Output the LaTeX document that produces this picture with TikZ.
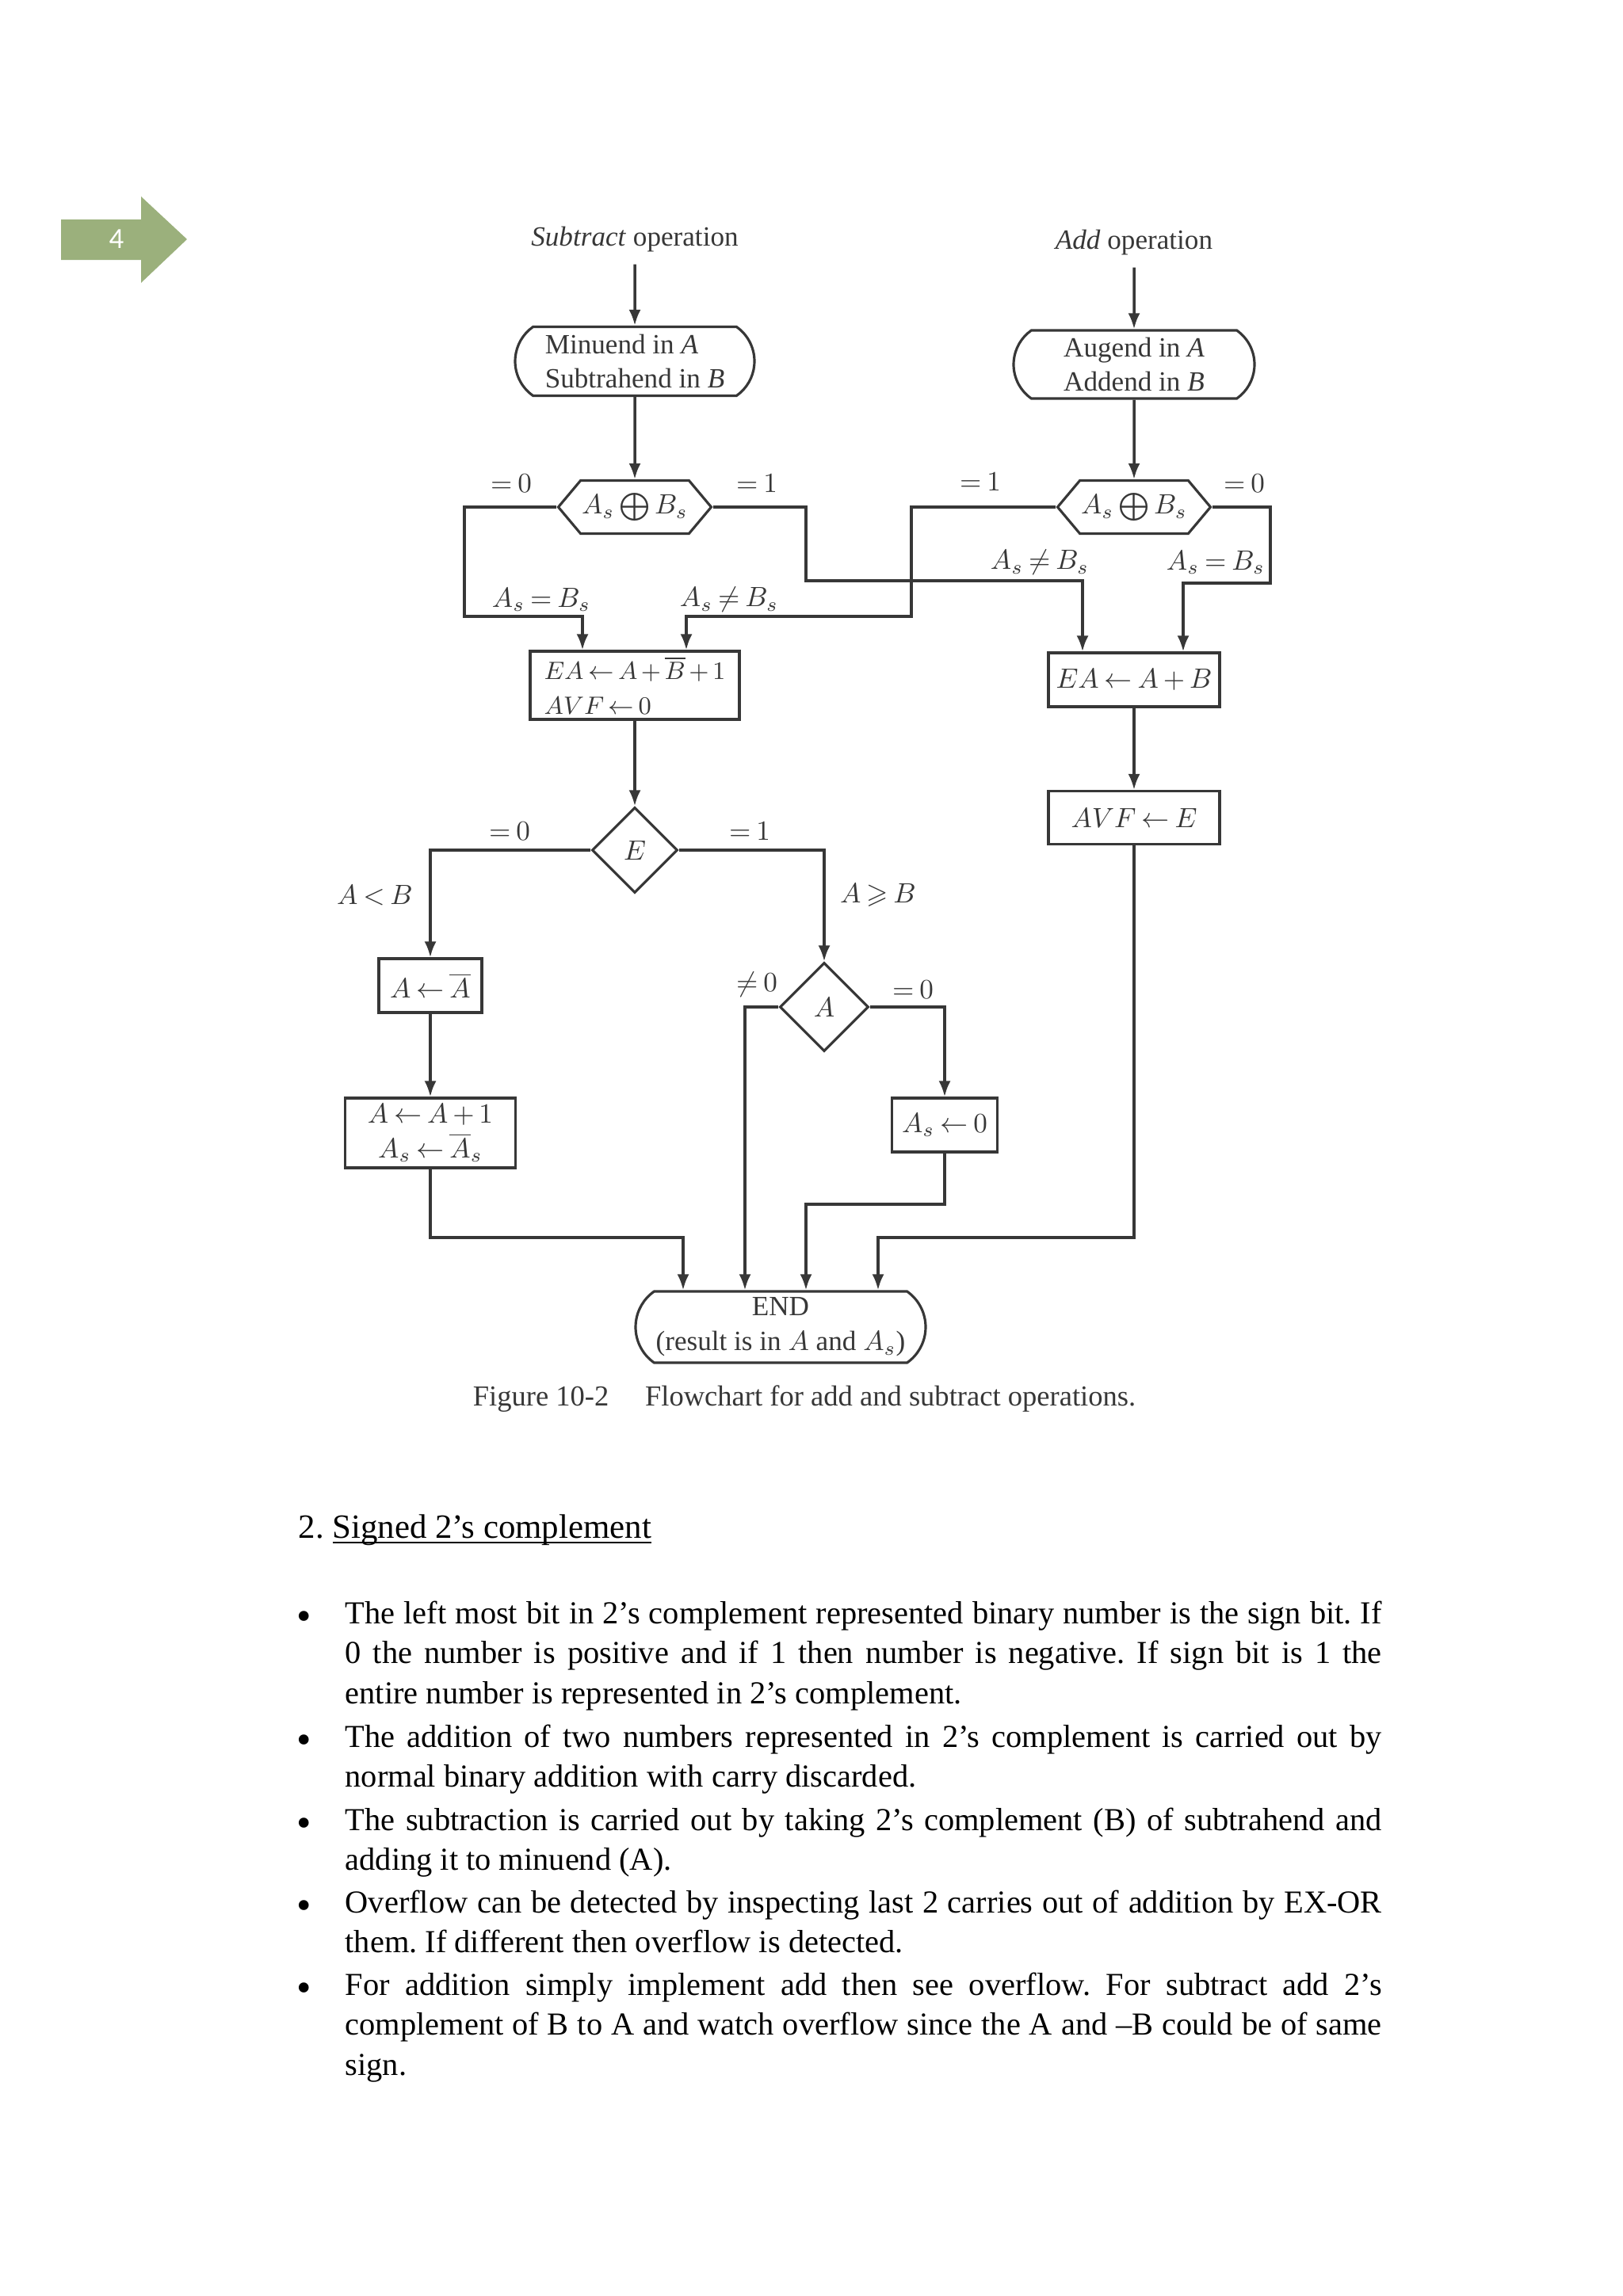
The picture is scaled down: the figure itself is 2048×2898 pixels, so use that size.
\documentclass[tikz,border=0pt]{standalone}
\usepackage{fontspec}
\setmainfont{Liberation Serif}
\newfontfamily\pagenumfont{Carlito}
\usepackage{amssymb}
\usepackage{tikz}
\usetikzlibrary{%
  arrows.meta,%
  shapes.geometric,% diamond
  shapes.misc,% rounded rectangle
  shapes.symbols,% signal
  positioning,%
  calc,
}
\definecolor{sage}{RGB}{155,176,124}
\definecolor{ink}{RGB}{55,55,55}
\newcommand\chartfont{\fontsize{10}{12.5}\selectfont\medmuskip=3mu\thickmuskip=3.5mu\relax}
\newcommand\tightfont{\fontsize{9.5}{12.5}\selectfont\medmuskip=2.5mu\thickmuskip=3mu\relax}
\newcommand\headline[1]{\underline{\smash{#1}}}
\frenchspacing
\tikzset{
  flow/.style={draw=ink, line width=1pt, -{Latex[length=2mm,width=1.5mm]}},
  opbox/.style={draw=ink, line width=0.9pt, rectangle, inner sep=0pt, text=ink, font=\chartfont},
  startend/.style={draw=ink, line width=0.9pt, rounded rectangle, rounded rectangle arc length=110, inner sep=0pt, text=ink, font=\chartfont},
  signtest/.style={draw=ink, line width=0.9pt, signal, signal to=west and east, signal pointer angle=100, inner sep=0pt, minimum width=19.3mm, minimum height=6.7mm, text=ink, font=\chartfont},
  decide/.style={draw=ink, line width=0.9pt, diamond, aspect=1, inner sep=0pt, text=ink, font=\chartfont},
  tag/.style={text=ink, inner sep=0pt, font=\chartfont},
  body/.style={anchor=base west, inner sep=0pt, font=\fontsize{11.5}{14.37}\selectfont},
  dot/.style={anchor=base, inner sep=0pt, font=\fontsize{15}{15}\selectfont},
}

\begin{document}
\begin{tikzpicture}[x=0.1mm, y=-0.1mm]
        \useasboundingbox (0,0) rectangle (2048,2898);
        % page marker
        \fill[sage] (77,277) -- (178,277) -- (178,248) -- (236,302) -- (178,357) -- (178,328) -- (77,328) -- cycle;
        \node[text=white, inner sep=0pt, font=\pagenumfont\fontsize{10.5}{12}\selectfont] (pagenum) at (147,302) {4};

        % flowchart nodes
        \node[tag] (subop) at (801,302) {\textit{Subtract} operation};
        \node[tag] (addop) at (1431,306) {\textit{Add} operation};
        \node[startend, align=left, minimum width=30.2mm, minimum height=8.7mm] (minuend) at (801,456) {Minuend in \textit{A}\\Subtrahend in \textit{B}};
        \node[startend, align=left, minimum width=30.4mm, minimum height=8.6mm] (augend) at (1431,460) {Augend in \textit{A}\\Addend in \textit{B}};
        \node[signtest] (hexS) at (801,640) {$A_s\mathbin{\bigoplus}B_s$};
        \node[signtest] (hexA) at (1431,640) {$A_s\mathbin{\bigoplus}B_s$};
        \node[opbox, align=left, minimum width=26.4mm, minimum height=8.6mm, font=\tightfont] (eaS) at (801,865) {$EA\leftarrow A+\overline{B}+1$\\$AVF\leftarrow 0$};
        \node[opbox, minimum width=21.6mm, minimum height=6.8mm] (eaA) at (1431,858) {$EA\leftarrow A+B$};
        \node[opbox, minimum width=21.6mm, minimum height=6.7mm] (avfA) at (1431,1032) {$AVF\leftarrow E$};
        \node[decide, minimum size=10.8mm] (diamE) at (801,1073) {$E$};
        \node[decide, minimum size=11.2mm] (diamA) at (1040,1271) {$A$};
        \node[opbox, minimum width=13mm, minimum height=6.8mm] (boxNot) at (543,1244) {$A\leftarrow\overline{A}$};
        \node[opbox, align=center, minimum width=21.5mm, minimum height=8.8mm] (boxInc) at (543,1430) {$A\leftarrow A+1$\\$A_s\leftarrow\overline{A}_s$};
        \node[opbox, minimum width=13.3mm, minimum height=6.8mm] (boxAs) at (1192,1420) {$A_s\leftarrow 0$};
        \node[startend, align=center, minimum width=36.6mm, minimum height=9mm] (endB) at (985,1675) {END\\(result is in $A$ and $A_s$)};

        % branch labels
        \node[tag] (lS0) at (645,610) {$=0$};
        \node[tag] (lS1) at (955,610) {$=1$};
        \node[tag] (lSeq) at (683,757) {$A_s=B_s$};
        \node[tag] (lSne) at (920,757) {$A_s\neq B_s$};
        \node[tag] (lA1) at (1237,608) {$=1$};
        \node[tag] (lA0) at (1570,610) {$=0$};
        \node[tag] (lAne) at (1312,710) {$A_s\neq B_s$};
        \node[tag] (lAeq) at (1534,710) {$A_s=B_s$};
        \node[tag] (lE0) at (643,1049) {$=0$};
        \node[tag] (lE1) at (946,1049) {$=1$};
        \node[tag] (lLt) at (473,1130) {$A<B$};
        \node[tag] (lGe) at (1108,1130) {$A\geqslant B$};
        \node[tag] (lAn0) at (955,1243) {$\neq 0$};
        \node[tag] (lAz0) at (1152,1249) {$=0$};

        % bends
        \coordinate (sL) at (586,778);
        \coordinate (sR) at (1017,733);
        \coordinate (aL) at (1150,778);
        \coordinate (aR) at (1603,736);
        \coordinate (jL) at (862,1562);
        \coordinate (jM) at (940,1562);
        \coordinate (jR) at (1017,1520);
        \coordinate (jA) at (1108,1562);

        % connectors
        \draw[flow, shorten <=1.5mm] (subop) -- (minuend);
        \draw[flow, shorten <=1.5mm] (addop) -- (augend);
        \draw[flow] (minuend) -- (hexS);
        \draw[flow] (augend) -- (hexA);
        \draw[flow] (hexS.west) -| (sL) -| ($(eaS.north)+(-66,0)$);
        \draw[flow] (hexS.east) -| (sR) -| ($(eaA.north)+(-65,0)$);
        \draw[flow] (hexA.west) -| (aL) -| ($(eaS.north)+(65,0)$);
        \draw[flow] (hexA.east) -| (aR) -| ($(eaA.north)+(62,0)$);
        \draw[flow] (eaS) -- (diamE);
        \draw[flow] (eaA) -- (avfA);
        \draw[flow] (diamE.west) -| (boxNot.north);
        \draw[flow] (diamE.east) -| (diamA.north);
        \draw[flow] (boxNot) -- (boxInc);
        \draw[flow] (diamA.east) -| (boxAs.north);
        \draw[flow] (boxInc.south) |- (jL) -- (endB.north -| jL);
        \draw[flow] (diamA.west) -| (endB.north -| jM);
        \draw[flow] (boxAs.south) |- (jR) -- (endB.north -| jR);
        \draw[flow] (avfA.south) |- (jA) -- (endB.north -| jA);

        \node[anchor=base, inner sep=0pt, text=ink, font=\fontsize{10.4}{12}\selectfont] (caption) at (1015,1774) {Figure 10-2\hspace{1em} Flowchart for add and subtract operations.};

        % text below
        \node[anchor=base west, inner sep=0pt, font=\fontsize{12.2}{14}\selectfont] (head) at (376,1941) {2. \headline{Signed 2’s complement}};
        \node[dot] (dot1) at (384,2057) {\textbullet};
        \node[body] (item1) at (435,2049) {\parbox[t]{130.8mm}{The left most bit in 2’s complement represented binary number is the sign bit. If\linebreak 0 the number is positive and if 1 then number is negative. If sign bit is 1 the\linebreak entire number is represented in 2’s complement.}};
        \node[dot] (dot2) at (384,2213) {\textbullet};
        \node[body] (item2) at (435,2205) {\parbox[t]{130.8mm}{The addition of two numbers represented in 2’s complement is carried out by\linebreak normal binary addition with carry discarded.}};
        \node[dot] (dot3) at (384,2318) {\textbullet};
        \node[body] (item3) at (435,2310) {\parbox[t]{130.8mm}{The subtraction is carried out by taking 2’s complement (B) of subtrahend and\linebreak adding it to minuend (A).}};
        \node[dot] (dot4) at (384,2422) {\textbullet};
        \node[body] (item4) at (435,2414) {\parbox[t]{130.8mm}{Overflow can be detected by inspecting last 2 carries out of addition by EX-OR\linebreak them. If different then overflow is detected.}};
        \node[dot] (dot5) at (384,2526) {\textbullet};
        \node[body] (item5) at (435,2518) {\parbox[t]{130.8mm}{For addition simply implement add then see overflow. For subtract add 2’s\linebreak complement of B to A and watch overflow since the A and –B could be of same\linebreak sign.}};
    \end{tikzpicture}
\end{document}
